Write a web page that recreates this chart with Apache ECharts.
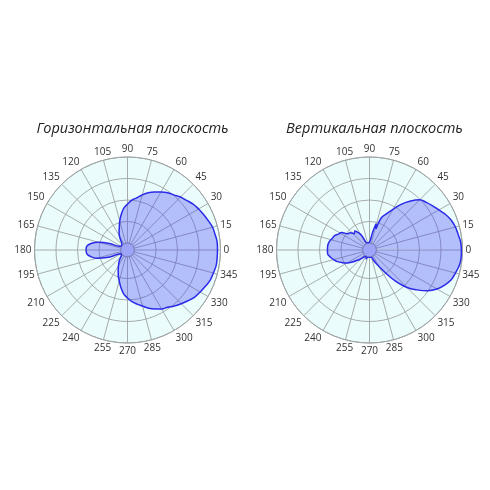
<!DOCTYPE html>
<html>
<head>
<meta charset="utf-8">
<script src="https://cdn.jsdelivr.net/npm/echarts@6/dist/echarts.min.js"></script>
<style>
  html, body { margin: 0; padding: 0; background: #fff; }
  #chart { width: 490px; height: 490px; }
</style>
</head>
<body>
<div id="chart"></div>
<script>
// диаграммы направленности, радиус в условных единицах 0..40 (кольца через 10)
const titles = ['Горизонтальная плоскость', 'Вертикальная плоскость'];

// горизонтальная плоскость
const hAngles = [0, 5, 10, 15, 20, 25, 30, 35, 40, 45, 50, 55, 60, 65, 70, 75, 80, 85, 90, 95,
  100, 105, 110, 115, 120, 125, 130, 135, 140, 145, 150, 155, 160, 165, 170, 175, 180, 185, 190, 195,
  200, 205, 210, 215, 220, 225, 230, 235, 240, 245, 250, 255, 260, 265, 270, 275, 280, 285, 290, 295,
  300, 305, 310, 315, 320, 325, 330, 335, 340, 345, 350, 355, 360];
const hValues = [38.6, 38.6, 38.1, 37.7, 36.7, 35.8, 34.9, 34.0, 32.6, 31.6, 30.2, 29.3, 27.9, 26.5, 25.1, 23.3, 21.4, 20.0, 18.1, 16.3,
  13.5, 10.7, 7.9, 6.0, 4.2, 2.3, 0.9, 0.5, 0.2, 0.1, 0.2, 0.8, 5.6, 10.7, 14.0, 15.8, 16.0, 15.8, 14.2, 11.6,
  7.0, 1.4, 0.2, 0.1, 0.4, 0.9, 2.3, 3.7, 5.1, 7.0, 9.3, 11.6, 14.4, 17.2, 19.1, 20.9, 22.3, 23.7, 25.6, 27.0,
  28.4, 29.3, 30.7, 32.1, 33.5, 34.9, 35.8, 36.7, 37.7, 38.1, 38.6, 38.6, 38.6];

// вертикальная плоскость
const vAngles = [0, 5, 10, 15, 20, 25, 30, 35, 40, 45, 50, 55, 60, 65, 70, 73, 76, 80, 85, 90,
  100, 110, 115, 118, 122, 128, 133, 138, 143, 148, 153, 158, 163, 168, 175, 180, 185, 190, 195, 200,
  205, 210, 215, 220, 225, 230, 235, 245, 250, 255, 270, 285, 290, 295, 300, 305, 310, 315, 320, 325,
  330, 335, 340, 345, 350, 355, 360];
const vValues = [39.5, 39.3, 38.6, 38.1, 37.2, 35.8, 34.0, 32.6, 31.2, 29.8, 26.5, 22.8, 18.6, 15.3, 12.6, 7.0, 9.3, 5.1, 1.4, 0.5,
  0.2, 0.2, 0.9, 4.2, 6.0, 7.9, 7.0, 8.8, 9.3, 12.1, 13.0, 14.4, 14.9, 15.8, 16.3, 16.3, 16.3, 15.3, 14.0, 12.6,
  10.7, 8.8, 6.5, 4.2, 2.8, 1.4, 0.5, 0.3, 1.4, 0.1, 0.1, 0.2, 1.4, 3.3, 5.6, 9.8, 15.8, 21.4, 25.6, 29.8,
  33.0, 35.3, 37.2, 38.1, 39.1, 39.5, 39.5];

const centers = [[127.5, 250], [369.5, 250]];
const innerR = 7, outerR = 93;

const chart = echarts.init(document.getElementById('chart'));

const gridColor = '#9ea3a3';
const fillColor = 'rgba(60, 60, 245, 0.45)';
const lineColor = '#2a2ae8';
const bgColor = '#ebfcfc';

function makePolar(c) {
  return { center: c, radius: [innerR, outerR] };
}

function makeAngleAxis(i) {
  return {
    polarIndex: i,
    type: 'value',
    min: 0,
    max: 360,
    interval: 15,
    startAngle: 0,
    clockwise: false,
    axisLine: { lineStyle: { color: gridColor, width: 1 } },
    axisTick: { show: false },
    axisLabel: {
      margin: 3,
      fontSize: 10,
      fontFamily: 'Open Sans',
      color: '#333',
      formatter: v => (v === 360 ? '' : String(v))
    },
    splitLine: { lineStyle: { color: gridColor, width: 0.9 } }
  };
}

function makeRadiusAxis(i) {
  return {
    polarIndex: i,
    type: 'value',
    min: 0,
    max: 40,
    interval: 10,
    axisLine: { show: false },
    axisTick: { show: false },
    axisLabel: { show: false },
    splitLine: { lineStyle: { color: gridColor, width: 0.9 } }
  };
}

function makeLine(i, angles, values) {
  return {
    type: 'line',
    coordinateSystem: 'polar',
    polarIndex: i,
    data: angles.map((a, k) => [values[k], a]),
    smooth: 0.4,
    symbol: 'none',
    lineStyle: { color: lineColor, width: 1.5 },
    areaStyle: { color: fillColor },
    z: 3
  };
}

// круглый фон под сеткой
function makeBg(c) {
  return {
    type: 'pie',
    center: c,
    radius: [0, outerR],
    silent: true,
    label: { show: false },
    labelLine: { show: false },
    itemStyle: { color: bgColor, borderWidth: 0 },
    data: [{ value: 1 }],
    z: -1
  };
}

// центральный кружок тоже залит
function makeCore(c) {
  return {
    type: 'pie',
    center: c,
    radius: [0, innerR],
    silent: true,
    label: { show: false },
    labelLine: { show: false },
    itemStyle: { color: fillColor, borderWidth: 0 },
    data: [{ value: 1 }],
    z: 3
  };
}

chart.setOption({
  animation: false,
  title: titles.map((t, i) => ({
    text: t,
    left: centers[i][0],
    top: 116,
    textAlign: 'center',
    textStyle: {
      fontFamily: 'Open Sans',
      fontStyle: 'italic',
      fontWeight: 'normal',
      fontSize: 14.5,
      color: '#222'
    }
  })),
  polar: centers.map(makePolar),
  angleAxis: [makeAngleAxis(0), makeAngleAxis(1)],
  radiusAxis: [makeRadiusAxis(0), makeRadiusAxis(1)],
  series: [
    makeBg(centers[0]),
    makeBg(centers[1]),
    makeLine(0, hAngles, hValues),
    makeLine(1, vAngles, vValues),
    makeCore(centers[0]),
    makeCore(centers[1])
  ]
});
</script>
</body>
</html>
